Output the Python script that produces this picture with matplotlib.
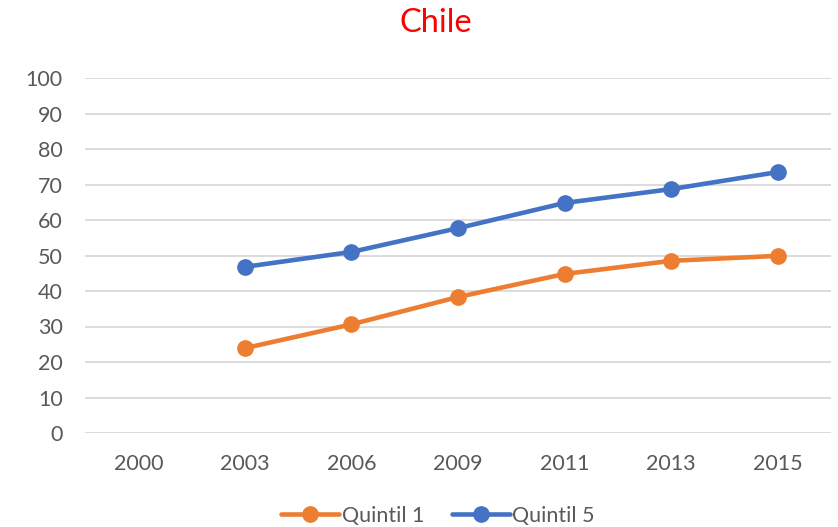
import numpy as np
import matplotlib
matplotlib.use('Agg')
import matplotlib.pyplot as plt

plt.rcParams['font.family'] = ['Lato', 'DejaVu Sans']

# data
years = ['2000', '2003', '2006', '2009', '2011', '2013', '2015']
quintil1 = [np.nan, 23.9, 30.6, 38.3, 44.8, 48.5, 49.9]
quintil5 = [np.nan, 46.8, 51.0, 57.7, 64.8, 68.7, 73.5]
yticks = list(range(0, 101, 10))

grey = '#595959'
orange = '#ED7D31'
blue = '#4472C4'

fig = plt.figure(figsize=(8.38, 5.27), dpi=100)
ax = fig.add_axes([85/838, 1 - 433/527, (831 - 85)/838, (433 - 78)/527])

x = np.arange(len(years))
ax.plot(x, quintil1, color=orange, lw=3.3, marker='o', ms=11, label='Quintil 1',
        solid_capstyle='round', zorder=3)
ax.plot(x, quintil5, color=blue, lw=3.3, marker='o', ms=11, label='Quintil 5',
        solid_capstyle='round', zorder=3)

ax.set_xlim(-0.5, len(years) - 0.5)
ax.set_ylim(0, 100)
ax.set_xticks(x)
ax.set_xticklabels(years)
ax.set_yticks(yticks)
ax.grid(axis='y', color='#d9d9d9', lw=1.3)
ax.set_axisbelow(True)
for s in ax.spines.values():
    s.set_visible(False)
ax.tick_params(axis='both', length=0, labelsize=15.5, labelcolor=grey)
ax.tick_params(axis='y', pad=16)
ax.tick_params(axis='x', pad=15)

fig.text(436/838, 1 - 23/527, 'Chile', color='red', fontsize=23.5, ha='center', va='center')

leg = fig.legend(loc='center', bbox_to_anchor=(438/838, 1 - 516/527), ncol=2, frameon=False,
                 fontsize=15.5, handlelength=2.7, handletextpad=0.1, columnspacing=1.3)
for t in leg.get_texts():
    t.set_color(grey)

fig.savefig('out.png', dpi=100)
